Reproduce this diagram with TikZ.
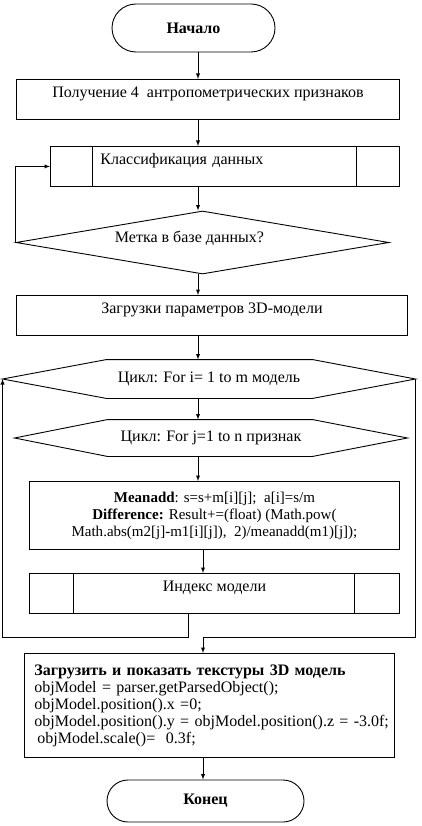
\documentclass[tikz,border=0pt]{standalone}
\usepackage{fontspec}
\setmainfont{Liberation Serif}
\usetikzlibrary{arrows,shapes.geometric,calc}

\begin{document}
\begin{tikzpicture}[x=1pt,y=-1pt,line width=0.9pt]
    \tikzset{every node/.style={font=\fontsize{16}{17}\selectfont}}
    \tikzset{term/.style={draw,rectangle,font=\fontsize{16}{17}\selectfont\bfseries}}
    \tikzset{procbox/.style={draw,rectangle,anchor=north west,inner xsep=4pt,inner ysep=4pt,text height=14pt,text depth=18pt}}
    \tikzset{loopbox/.style={rectangle,inner sep=0pt}}
    \tikzset{codebox/.style={draw,rectangle,anchor=north west,inner xsep=10pt}}
    \useasboundingbox (0,0) rectangle (422,826);
    \node[term,minimum width=163pt,minimum height=48pt,rounded corners=24pt] (start) at (193.5,28) {Начало};
    \node[procbox,minimum width=383pt] (input) at (16,79) {Получение 4\ \ антропометрических признаков};
    \node[procbox,text width=249pt,inner xsep=50pt,align=left] (classify) at (50,146) {Классификация данных};
    \draw ($(classify.north west)+(42,0)$) -- ($(classify.south west)+(42,0)$);
    \draw ($(classify.north east)+(-43,0)$) -- ($(classify.south east)+(-43,0)$);
    \node[diamond,draw,minimum width=373pt,minimum height=63pt,inner sep=0pt,
        label={[xshift=-13pt,yshift=4pt]center:Метка в базе данных?}] (check) at (202.5,242.5) {};
    \node[procbox,minimum width=391pt] (load) at (16,295) {Загрузки параметров 3D-модели};
    \node[loopbox,minimum width=412pt,minimum height=38pt] (loopi) at (209,379) {Цикл: For i= 1 to m модель};
    \draw (loopi.west) -- ($(loopi.north west)+(104,0)$) -- ($(loopi.north east)+(-103,0)$) -- (loopi.east)
        -- ($(loopi.south east)+(-103,0)$) -- ($(loopi.south west)+(104,0)$) -- cycle;
    \node[loopbox,minimum width=392pt,minimum height=36pt] (loopj) at (211,438) {Цикл: For j=1 to n признак};
    \draw (loopj.west) -- ($(loopj.north west)+(93,0)$) -- ($(loopj.north east)+(-95,0)$) -- (loopj.east)
        -- ($(loopj.south east)+(-95,0)$) -- ($(loopj.south west)+(93,0)$) -- cycle;
    \node[codebox,minimum width=370pt,minimum height=68pt,align=center,font=\fontsize{15}{17}\selectfont] (metric) at (29,481)
        {\textbf{Meanadd}: s=s+m[i][j];\ \ a[i]=s/m\\
         \textbf{Difference:} Result+=(float) (Math.pow(\\
         Math.abs(m2[j]-m1[i][j]),\ \ 2)/meanadd(m1)[j]);};
    \node[procbox,minimum width=370pt] (index) at (29,573) {Индекс модели};
    \draw ($(index.north west)+(44,0)$) -- ($(index.south west)+(44,0)$);
    \draw ($(index.north east)+(-45,0)$) -- ($(index.south east)+(-45,0)$);
    \node[codebox,text width=350pt,minimum height=104pt,align=left] (show) at (24,653)
        {\textbf{Загрузить и показать текстуры 3D модель}\\
         objModel = parser.getParsedObject();\\
         objModel.position().x =0;\\
         \mbox{objModel.position().y = objModel.position().z = -3.0f;}\\
         \hspace*{3pt}objModel.scale()=\ \ 0.3f;};
    \node[term,minimum width=197pt,minimum height=42pt,rounded corners=21pt] (stop) at (205.5,801) {Конец};
    \coordinate (colA) at (198,0);
    \coordinate (colB) at (203,0);
    \coordinate (back) at (188,637);
    \coordinate (join) at (203,637);
    \draw[-latex] (start.south -| colA) -- (input.north -| colA);
    \draw[-latex] (input.south -| colA) -- (classify.north -| colA);
    \draw[-latex] (classify.south -| colA) -- (check.north -| colA);
    \draw[-latex] (check.west) |- (classify.west);
    \draw[-latex] (check.south -| colA) -- (load.north -| colA);
    \draw[-latex] (load.south -| colA) -- (loopi.north -| colA);
    \draw[-latex] (loopi.south -| colA) -- (loopj.north -| colA);
    \draw[-latex] (loopj.south -| colA) -- (metric.north -| colA);
    \draw[-latex] (metric.south -| colB) -- (index.north -| colB);
    \draw[-latex] (index.south -| back) -- (back) -| (loopi.west);
    \draw[-latex] (loopi.east) |- (join) -- (show.north -| join);
    \draw[-latex] (show.south -| colB) -- (stop.north -| colB);
\end{tikzpicture}
\end{document}
